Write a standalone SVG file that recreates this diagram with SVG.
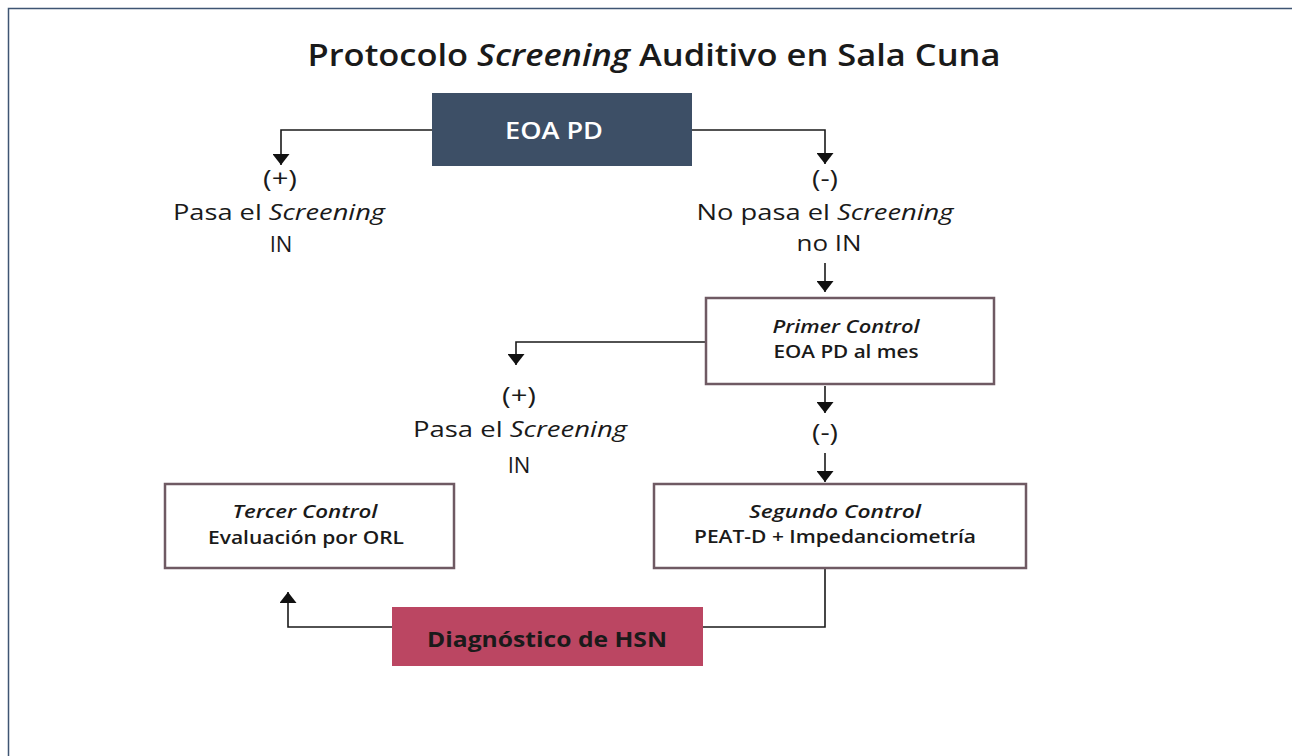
<svg xmlns="http://www.w3.org/2000/svg" width="1292" height="756" viewBox="0 0 1292 756">
<defs>
<style>
text{font-family:"Open Sans","Noto Sans","Liberation Sans",sans-serif;fill:#1a1a1a;text-anchor:middle}
.t{font-size:31px;font-weight:560}
.lbl{font-size:22px;font-weight:460}
.bx{font-size:17.5px}
.i{font-style:italic}
.m{font-weight:580}
.ln{fill:none;stroke:#1a1a1a;stroke-width:1.6}
.wb{fill:#fff;stroke:#6f5a63;stroke-width:2.5}
</style>
<marker id="ah" viewBox="0 0 11 17" refX="11" refY="8.5" markerWidth="11" markerHeight="17" markerUnits="userSpaceOnUse" orient="auto">
<path d="M0,0 L11,8.5 L0,17 Z" fill="#111"/>
</marker>
</defs>
<rect width="1292" height="756" fill="#fff"/>
<path d="M8.5,756 V8.5 H1292" fill="none" stroke="#3f5573" stroke-width="1.5"/>
<text class="t" x="654" y="66" textLength="693" lengthAdjust="spacingAndGlyphs">Protocolo <tspan class="i">Screening</tspan> Auditivo en Sala Cuna</text>

<g id="connectors">
<path class="ln" d="M432,130 H281 V165" marker-end="url(#ah)"/>
<path class="ln" d="M692,130 H825 V164" marker-end="url(#ah)"/>
<path class="ln" d="M825,263 V292" marker-end="url(#ah)"/>
<path class="ln" d="M706,342 H516 V365" marker-end="url(#ah)"/>
<path class="ln" d="M825,386 V413" marker-end="url(#ah)"/>
<path class="ln" d="M825,453 V482" marker-end="url(#ah)"/>
<path class="ln" d="M825,569 V627 H703"/>
<path class="ln" d="M392,627 H288 V592" marker-end="url(#ah)"/>
</g>

<g id="eoa">
<rect x="432" y="93" width="260" height="73" fill="#3d4f66"/>
<text x="554" y="139" textLength="98" lengthAdjust="spacingAndGlyphs" style="font-size:24px;fill:#fff;font-weight:580">EOA PD</text>
</g>
<g id="pasa1">
<text class="lbl" x="280" y="187" textLength="34" lengthAdjust="spacingAndGlyphs" style="font-size:24px">(+)</text>
<text class="lbl" x="279" y="220" textLength="212" lengthAdjust="spacingAndGlyphs">Pasa el <tspan class="i">Screening</tspan></text>
<text class="lbl" x="281" y="252">IN</text>
</g>
<g id="nopasa">
<text class="lbl" x="825" y="187" textLength="26" lengthAdjust="spacingAndGlyphs" style="font-size:24px">(-)</text>
<text class="lbl" x="825" y="220" textLength="257" lengthAdjust="spacingAndGlyphs">No pasa el <tspan class="i">Screening</tspan></text>
<text class="lbl" x="829" y="251" textLength="65" lengthAdjust="spacingAndGlyphs">no IN</text>
</g>
<g id="primer">
<rect class="wb" x="706" y="298" width="288" height="86"/>
<text class="bx i m" x="846" y="333" textLength="147" lengthAdjust="spacingAndGlyphs">Primer Control</text>
<text class="bx m" x="846" y="358" textLength="145" lengthAdjust="spacingAndGlyphs">EOA PD al mes</text>
</g>
<g id="pasa2">
<text class="lbl" x="519" y="404" textLength="34" lengthAdjust="spacingAndGlyphs" style="font-size:24px">(+)</text>
<text class="lbl" x="520" y="437" textLength="214" lengthAdjust="spacingAndGlyphs">Pasa el <tspan class="i">Screening</tspan></text>
<text class="lbl" x="519" y="473">IN</text>
</g>
<g id="menos2">
<text class="lbl" x="825" y="441" textLength="26" lengthAdjust="spacingAndGlyphs" style="font-size:24px">(-)</text>
</g>
<g id="segundo">
<rect class="wb" x="654" y="484" width="372" height="84"/>
<text class="bx i m" x="835" y="518" textLength="172" lengthAdjust="spacingAndGlyphs">Segundo Control</text>
<text class="bx m" x="835" y="543" textLength="282" lengthAdjust="spacingAndGlyphs">PEAT-D + Impedanciometría</text>
</g>
<g id="tercer">
<rect class="wb" x="165" y="484" width="289" height="84"/>
<text class="bx i m" x="305" y="518" textLength="145" lengthAdjust="spacingAndGlyphs">Tercer Control</text>
<text class="bx m" x="306" y="544" textLength="196" lengthAdjust="spacingAndGlyphs">Evaluación por ORL</text>
</g>
<g id="diag">
<rect x="392" y="607" width="311" height="59" fill="#bb4662"/>
<text x="547" y="647" textLength="240" lengthAdjust="spacingAndGlyphs" style="font-size:21px;font-weight:700">Diagnóstico de HSN</text>
</g>
</svg>
